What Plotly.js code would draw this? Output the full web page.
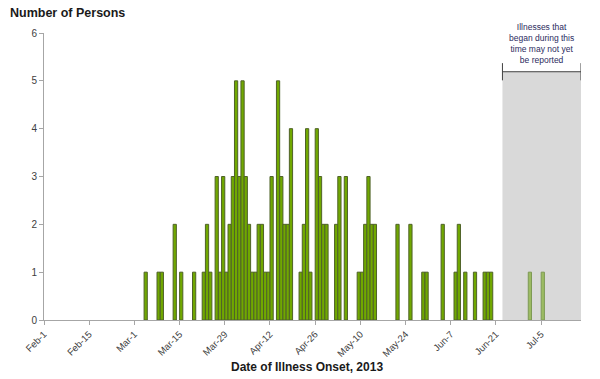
<!DOCTYPE html>
<html><head><meta charset="utf-8">
<script src="https://cdn.plot.ly/plotly-3.0.1.min.js"></script>
<style>html,body{margin:0;padding:0;background:#fff}#chart{width:600px;height:379px}</style>
</head><body><div id="chart"></div>
<script>
const onsetDates = [
  '2013-03-04','2013-03-08','2013-03-09','2013-03-13','2013-03-15','2013-03-19',
  '2013-03-22','2013-03-23','2013-03-24','2013-03-26','2013-03-27','2013-03-28',
  '2013-03-29','2013-03-30','2013-03-31','2013-04-01','2013-04-02','2013-04-03',
  '2013-04-04','2013-04-05','2013-04-06','2013-04-07','2013-04-08','2013-04-09',
  '2013-04-10','2013-04-11','2013-04-12','2013-04-14','2013-04-15','2013-04-16',
  '2013-04-17','2013-04-18','2013-04-21','2013-04-22','2013-04-23','2013-04-24',
  '2013-04-26','2013-04-27','2013-04-28','2013-04-29','2013-05-02','2013-05-03',
  '2013-05-05','2013-05-09','2013-05-10','2013-05-11','2013-05-12','2013-05-13',
  '2013-05-14','2013-05-21','2013-05-25','2013-05-29','2013-05-30','2013-06-04',
  '2013-06-08','2013-06-09','2013-06-11','2013-06-14','2013-06-17','2013-06-18',
  '2013-06-19'
];
const persons = [
  1,1,1,2,1,1,
  1,2,1,3,1,3,
  1,2,3,5,3,5,
  3,2,1,1,2,2,
  1,1,3,5,3,2,
  2,4,1,2,4,1,
  4,3,2,2,2,3,
  3,1,1,2,3,2,
  2,2,2,1,1,2,
  1,2,1,1,1,1,
  1
];
const lateDates = ['2013-07-01','2013-07-05'];
const latePersons = [1,1];
const tickDates = ['2013-02-01','2013-02-15','2013-03-01','2013-03-15','2013-03-29','2013-04-12',
  '2013-04-26','2013-05-10','2013-05-24','2013-06-07','2013-06-21','2013-07-05'];
const tickLabels = ['Feb-1','Feb-15','Mar-1','Mar-15','Mar-29','Apr-12',
  'Apr-26','May-10','May-24','Jun-7','Jun-21','Jul-5'];
const axisStart = '2013-02-01';
const axisEnd = '2013-07-17 08:00';
const pendingStart = '2013-06-23';
const pendingTop = 5.19;
const noteText = 'Illnesses that<br>began during this<br>time may not yet<br>be reported';

const mid = d => d + ' 12:00';
const DAY = 86400000;

const traces = [
  {type:'bar', x: onsetDates.map(mid), y: persons, width: onsetDates.map(()=>DAY),
   marker:{color:'#70a800', line:{color:'#4f6228', width:1}}, hoverinfo:'x+y'},
  {type:'bar', x: lateDates.map(mid), y: latePersons, width: lateDates.map(()=>DAY),
   marker:{color:'#9cbb63', line:{color:'#7e9a55', width:1}}, hoverinfo:'x+y'}
];

const pendMid = new Date((Date.parse(pendingStart+'T00:00:00Z') + Date.parse(axisEnd.replace(' ','T')+':00Z'))/2)
  .toISOString().slice(0,19).replace('T',' ');

const layout = {
  width:600, height:379,
  margin:{l:44, r:19, t:33, b:59},
  paper_bgcolor:'#fff', plot_bgcolor:'#fff',
  showlegend:false, bargap:0, barmode:'overlay',
  font:{family:'Liberation Sans, Arial, sans-serif', size:10, color:'#404040'},
  xaxis:{type:'date', range:[axisStart, axisEnd], tickvals:tickDates, ticktext:tickLabels,
    tickangle:-45, ticks:'outside', ticklen:4, tickcolor:'#a6a6a6',
    showline:true, linecolor:'#a6a6a6', linewidth:1, showgrid:false, zeroline:false,
    automargin:false, tickfont:{size:9.5, color:'#404040'}},
  yaxis:{range:[0,6], dtick:1, ticks:'outside', ticklen:4, tickcolor:'#a6a6a6',
    showline:true, linecolor:'#a6a6a6', linewidth:1, showgrid:false, zeroline:false,
    automargin:false, tickfont:{size:10, color:'#404040'}},
  shapes:[
    {type:'rect', xref:'x', yref:'y', x0:pendingStart, x1:axisEnd, y0:0, y1:pendingTop,
     fillcolor:'#d9d9d9', line:{width:0}, layer:'below'},
    {type:'line', xref:'x', yref:'y', x0:pendingStart, x1:axisEnd, y0:pendingTop, y1:pendingTop,
     line:{color:'#404040', width:1}},
    {type:'line', xref:'x', yref:'y', x0:pendingStart, x1:pendingStart, y0:pendingTop-0.18, y1:pendingTop+0.18,
     line:{color:'#404040', width:1}},
    {type:'line', xref:'x', yref:'y', x0:axisEnd, x1:axisEnd, y0:pendingTop-0.18, y1:pendingTop+0.18,
     line:{color:'#404040', width:1}}
  ],
  annotations:[
    {xref:'x', yref:'y', x:pendMid, y:pendingTop+0.1, yanchor:'bottom', xanchor:'center',
     text:noteText, showarrow:false, align:'center',
     font:{size:8.5, color:'#2b2b5e', family:'Liberation Sans, Arial, sans-serif'}},
    {xref:'paper', yref:'paper', x:-0.067, y:1.07, xanchor:'left', yanchor:'middle',
     text:'<b>Number of Persons</b>', showarrow:false,
     font:{size:12.5, color:'#1a1a1a', family:'Liberation Sans, Arial, sans-serif'}},
    {xref:'paper', yref:'paper', x:0.49, y:-0.163, xanchor:'center', yanchor:'middle',
     text:'<b>Date of Illness Onset, 2013</b>', showarrow:false,
     font:{size:12, color:'#1a1a1a', family:'Liberation Sans, Arial, sans-serif'}}
  ]
};
Plotly.newPlot('chart', traces, layout, {displayModeBar:false, staticPlot:true});
</script>
</body></html>
